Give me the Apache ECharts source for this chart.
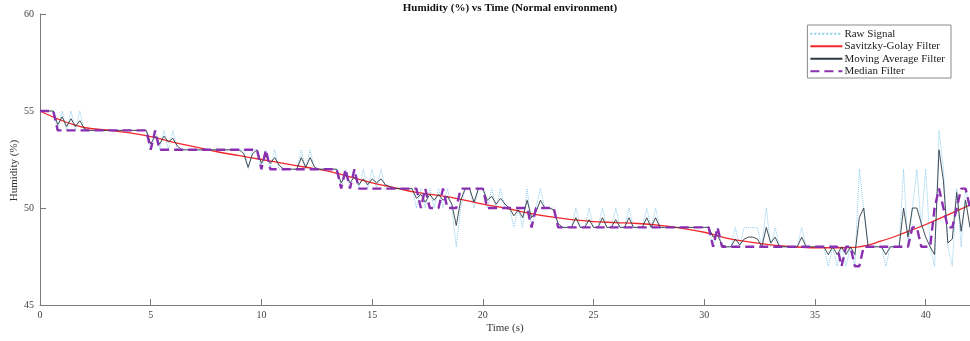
<!DOCTYPE html>
<html>
<head>
<meta charset="utf-8">
<script src="https://cdn.jsdelivr.net/npm/echarts@6/dist/echarts.min.js"></script>
<style>
html,body{margin:0;padding:0;background:#fff;}
#c{width:970px;height:341px;}
</style>
</head>
<body>
<div id="c"></div>
<script>
// sampling step of the recorded signal (s)
const dt = 0.2;
const xTicks = [0, 5, 10, 15, 20, 25, 30, 35, 40];
const yTicks = [45, 50, 55, 60];

// Raw signal, 5 samples per second, 0 .. 42 s
const rawSignal = [
  55,55,55,55,54, 55,54,55,54,55, 54,54,54,54,54, 54,54,54,54,54, 54,54,54,54,54,
  53,54,53,54,53, 54,53,53,53,53, 53,53,53,53,53, 53,53,53,53,53, 53,53,52,53,53,
  52,53,52,53,52, 52,52,52,52,53, 52,53,52,52,52, 52,52,52,51,52, 51,52,51,52,51,
  52,51,52,51,51, 51,51,51,51,51, 50,51,50,51,50, 51,50,51,50,48, 50,51,51,50,51,
  51,50,51,50,51, 50,50,49,50,49, 51,49,50,51,50, 50,50,49,49,49, 49,50,49,49,50,
  49,49,50,49,49, 50,49,49,50,49, 49,49,50,49,50, 49,49,49,49,49, 49,49,49,49,49,
  49,49,48,49,48, 48,48,49,48,49, 49,49,49,48,50, 48,49,48,48,48, 48,48,49,48,48,
  48,48,48,47,48, 47,48,47,48,47, 52,50,48,48,48, 48,47,48,48,48, 52,48,50,52,49,
  52,48,47,54,52, 48,47,51,48,51, 50
];

// Moving Average filter output
const movingAvg = [
  55,55,55,55,54.3, 54.7,54.2,54.6,54.2,54.5, 54.1,54,54,54,54, 54,54,54,54,54, 54,54,54,54,54,
  53.3,53.7,53.3,53.7,53.4, 53.6,53.2,53,53,53, 53,53,53,53,53, 53,53,53,53,53, 53,52.8,52.1,52.8,53,
  52.3,52.7,52.3,52.6,52.2, 52,52,52,52,52.6, 52.1,52.6,52.1,52,52, 52,52,52,51.3,51.7, 51.3,51.6,51.2,51.5,51.2,
  51.5,51.3,51.5,51.2,51.1, 51,51,51,51,51, 50.5,50.7,50.3,50.7,50.4, 50.7,50.4,50.6,50.2,49.1, 50.4,51,51,50.3,51,
  51,50.4,50.6,50.2,50.5, 50.2,50,49.6,49.9,49.5, 50.4,49.5,49.8,50.4,50, 50,49.9,49.2,49,49, 49,49.5,49,49,49.4,
  49,49,49.5,49,49, 49.4,49,49,49.5,49, 49,49,49.5,49,49.5, 49,49,49,49,49, 49,49,49,49,49,
  49,49,48.5,48.6,48.1, 48,48,48.4,48.1,48.4, 48.5,48.5,48.4,48,49, 48.2,48.5,48,48,48, 48,48,48.5,48,48,
  48,48,48,47.6,48, 47.6,48,47.6,48,47.6, 49.5,50,48,48,48, 48,47.6,48,48,48, 50,48.5,50,50,49.2,
  48.5,48,47.6,53,51.4, 48.2,48.4,50.8,48.8,50.4, 49
];

// Median filter output
const medianFilt = [
  55,55,55,55,54, 54,54,54,54,54, 54,54,54,54,54, 54,54,54,54,54, 54,54,54,54,54,
  53,54,53,53,53, 53,53,53,53,53, 53,53,53,53,53, 53,53,53,53,53, 53,53,53,53,53,
  52,53,52,52,52, 52,52,52,52,52, 52,52,52,52,52, 52,52,52,51,52, 51,52,51,51,51,
  51,51,51,51,51, 51,51,51,51,51, 51,50,51,50,50, 50,51,50,50,50, 51,51,51,51,51,
  51,50,50,50,50, 50,50,50,50,50, 50,49,50,50,50, 50,50,49,49,49, 49,49,49,49,49,
  49,49,49,49,49, 49,49,49,49,49, 49,49,49,49,49, 49,49,49,49,49, 49,49,49,49,49,
  49,49,48,49,48, 48,48,48,48,48, 48,48,48,48,48, 48,48,48,48,48, 48,48,48,48,48,
  48,48,48,48,48, 48,47,48,48,47, 47,48,48,48,48, 48,48,48,48,48, 48,48,49,49,48,
  48,48,50,51,50, 49,49,50,51,51, 50
];

// Savitzky-Golay filter output, one value per second 0 .. 42 s
const sgTimes = [0,1,2,3,4,5,6,7,8,9,10,11,12,13,14,15,16,17,18,19,20,21,22,23,24,25,26,27,28,29,30,31,32,33,34,35,36,37,38,39,40,41,42];
const sgFilter = [55.0,54.5,54.15,54.02,53.88,53.68,53.4,53.15,52.9,52.7,52.5,52.3,52.1,51.9,51.6,51.3,51.05,50.8,50.65,50.45,50.2,50.0,49.75,49.55,49.4,49.3,49.25,49.2,49.1,48.95,48.75,48.45,48.25,48.1,48.0,47.95,47.95,48.0,48.3,48.7,49.15,49.65,50.15];

const pairs = arr => arr.map((v, i) => [+(i * dt).toFixed(2), v]);
const sgData = sgFilter.map((v, i) => [sgTimes[i], v]);

const FONT = "'Liberation Serif', 'Times New Roman', serif";
const chart = echarts.init(document.getElementById('c'), null, {renderer: 'canvas'});
chart.setOption({
  animation: false,
  backgroundColor: '#fff',
  title: {
    text: 'Humidity (%) vs Time (Normal environment)',
    left: 505, top: -2, textAlign: 'center',
    textStyle: {fontFamily: FONT, fontSize: 11, fontWeight: 'bold', color: '#111'}
  },
  legend: {
    orient: 'vertical', right: 19, top: 25,
    itemWidth: 32, itemHeight: 8, itemGap: 1,
    padding: [3, 6, 1, 2],
    borderColor: '#8a8a8a', borderWidth: 1, backgroundColor: '#fff',
    itemStyle: {opacity: 0},
    textStyle: {fontFamily: FONT, fontSize: 11, lineHeight: 11.5, color: '#222', padding: [0,0,0,-3]},
    data: ['Raw Signal', 'Savitzky-Golay Filter', 'Moving Average Filter', 'Median Filter']
  },
  grid: {left: 40, right: 0, top: 14, bottom: 36, containLabel: false, outerBoundsMode: 'none'},
  xAxis: {
    type: 'value', min: 0, max: 42,
    name: 'Time (s)', nameLocation: 'middle', nameGap: 18, nameMoveOverlap: false,
    nameTextStyle: {fontFamily: FONT, fontSize: 11, color: '#333'},
    axisLine: {show: true, lineStyle: {color: '#7a7a7a', width: 1}},
    axisTick: {show: true, inside: true, length: 6, customValues: xTicks, lineStyle: {color: '#7a7a7a'}},
    axisLabel: {customValues: xTicks, fontFamily: FONT, fontSize: 10, color: '#444', margin: 5},
    splitLine: {show: false}
  },
  yAxis: {
    type: 'value', min: 45, max: 60, interval: 5,
    name: 'Humidity (%)', nameLocation: 'middle', nameGap: 20, nameMoveOverlap: false,
    nameTextStyle: {fontFamily: FONT, fontSize: 11, color: '#333', padding: [0, 22, 0, 0]},
    axisLine: {show: true, lineStyle: {color: '#7a7a7a', width: 1}},
    axisTick: {show: true, inside: true, length: 6, customValues: yTicks, lineStyle: {color: '#7a7a7a'}},
    axisLabel: {customValues: yTicks, fontFamily: FONT, fontSize: 10, color: '#444', margin: 6},
    splitLine: {show: false}
  },
  series: [
    {name: 'Raw Signal', type: 'line', data: pairs(rawSignal), symbol: 'none',
     lineStyle: {color: '#8ccbec', width: 1, type: 'dotted'}, itemStyle: {color: '#8ccbec'}},
    {name: 'Savitzky-Golay Filter', type: 'line', data: sgData, symbol: 'none', smooth: 0.4,
     lineStyle: {color: '#f2272a', width: 1.3}, itemStyle: {color: '#f2272a'}},
    {name: 'Moving Average Filter', type: 'line', data: pairs(movingAvg), symbol: 'none',
     lineStyle: {color: '#2f3b44', width: 0.9}, itemStyle: {color: '#2f3b44'}},
    {name: 'Median Filter', type: 'line', data: pairs(medianFilt), symbol: 'none',
     lineStyle: {color: '#8a2fb0', width: 2.4, type: [9, 5]}, itemStyle: {color: '#8a2fb0'}}
  ]
});
</script>
</body>
</html>
